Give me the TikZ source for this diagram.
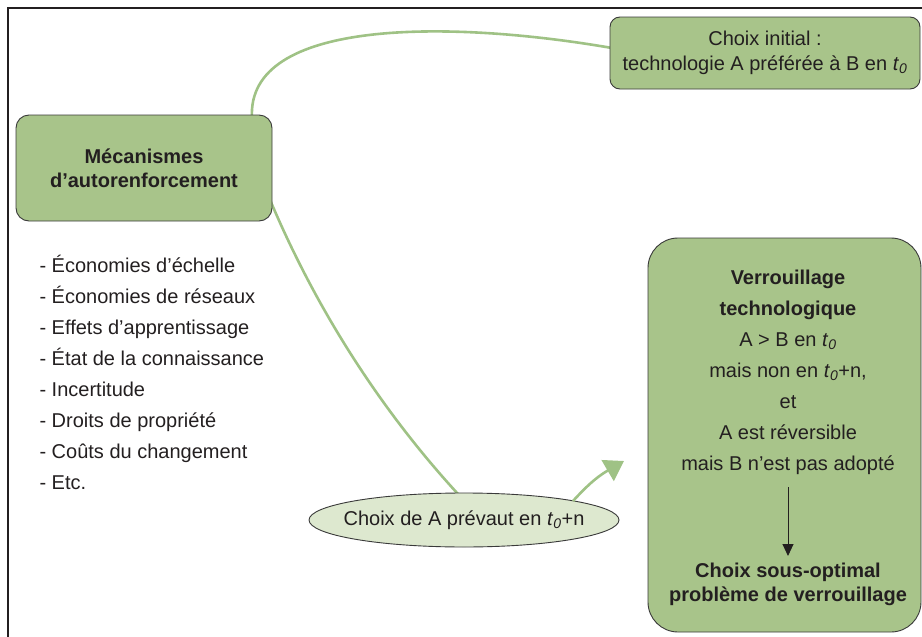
\documentclass[tikz,border=0pt]{standalone}
\usepackage{fontspec}
\setmainfont{Liberation Sans}
\usetikzlibrary{shapes.geometric,arrows.meta}
\definecolor{boxgreen}{HTML}{A8C48A}
\definecolor{linkgreen}{HTML}{9FC285}
\definecolor{palegreen}{HTML}{DDE8CF}
\definecolor{edgegrey}{HTML}{3A3A3A}
\definecolor{ink}{HTML}{231F20}
\newcommand{\tzero}{\textit{t}\textsubscript{\textit{0}}}
\tikzset{
  greenbox/.style={draw=edgegrey, line width=0.9pt, fill=boxgreen, text=ink, align=center},
  link/.style={draw=linkgreen, line width=2.6pt},
  txt/.style={font=\fontsize{20}{24}\selectfont, text=ink},
}
\begin{document}
\begin{tikzpicture}[x=1pt,y=-1pt]
\useasboundingbox (0,0) rectangle (922,637);
\clip (0,0) rectangle (922,637);
% page frame
\draw[line width=2pt, ink] (8,700) -- (8,8) -- (960,8);

% connectors (drawn first so boxes cover their ends)
\coordinate (c1) at (252,118);
\coordinate (c2) at (612,48);
\draw[link] (c1) .. controls (246,18) and (450,20) .. (c2);
\coordinate (c3) at (268,195);
\coordinate (c4) at (458,494);
\draw[link] (c3) .. controls (320,320) and (390,420) .. (c4);

% boxes
\node[greenbox, rounded corners=10pt, minimum width=310pt, minimum height=72pt,
      font=\fontsize{20}{25}\selectfont] (init) at (765,53)
  {Choix initial :\\technologie A préférée à B en \tzero};
\node[greenbox, rounded corners=13pt, minimum width=256pt, minimum height=106pt,
      font=\bfseries\fontsize{20}{24}\selectfont] (meca) at (144,168)
  {Mécanismes\\d’autorenforcement};

\draw[greenbox, rounded corners=30pt] (648,238) rectangle (921,632);
\node[txt, align=center, font=\fontsize{20}{31}\selectfont, anchor=north] (verr) at (788,266)
  {\textbf{Verrouillage}\\\textbf{technologique}\\A > B en \tzero\\mais non en \tzero+n,\\et\\A est réversible\\mais B n’est pas adopté};
\node[txt, align=center, font=\bfseries\fontsize{20}{24}\selectfont] (subopt) at (788,584)
  {Choix sous-optimal\\problème de verrouillage};
\coordinate (a1) at (788,487);
\coordinate (a2) at (788,556);
\draw[ink, line width=1pt, -{Triangle[length=12pt,width=11pt]}] (a1) -- (a2);

% ellipse and its arrow
\draw[draw=edgegrey, line width=0.9pt, fill=palegreen] (464,520) ellipse [x radius=155pt, y radius=27pt];
\node[txt] (choix) at (464,520) {Choix de A prévaut en \tzero+n};
\coordinate (g1) at (573,501);
\coordinate (g2) at (624,461);
\draw[link, -{Triangle[length=19pt,width=24pt]}] (g1) .. controls (585,488) and (595,478) .. (g2);

% list of mechanisms
\node[txt, align=left, anchor=north west, font=\fontsize{20}{31}\selectfont] (list) at (36,252)
  {- Économies d’échelle\\- Économies de réseaux\\- Effets d’apprentissage\\- État de la connaissance\\- Incertitude\\- Droits de propriété\\- Coûts du changement\\- Etc.};
\end{tikzpicture}
\end{document}
